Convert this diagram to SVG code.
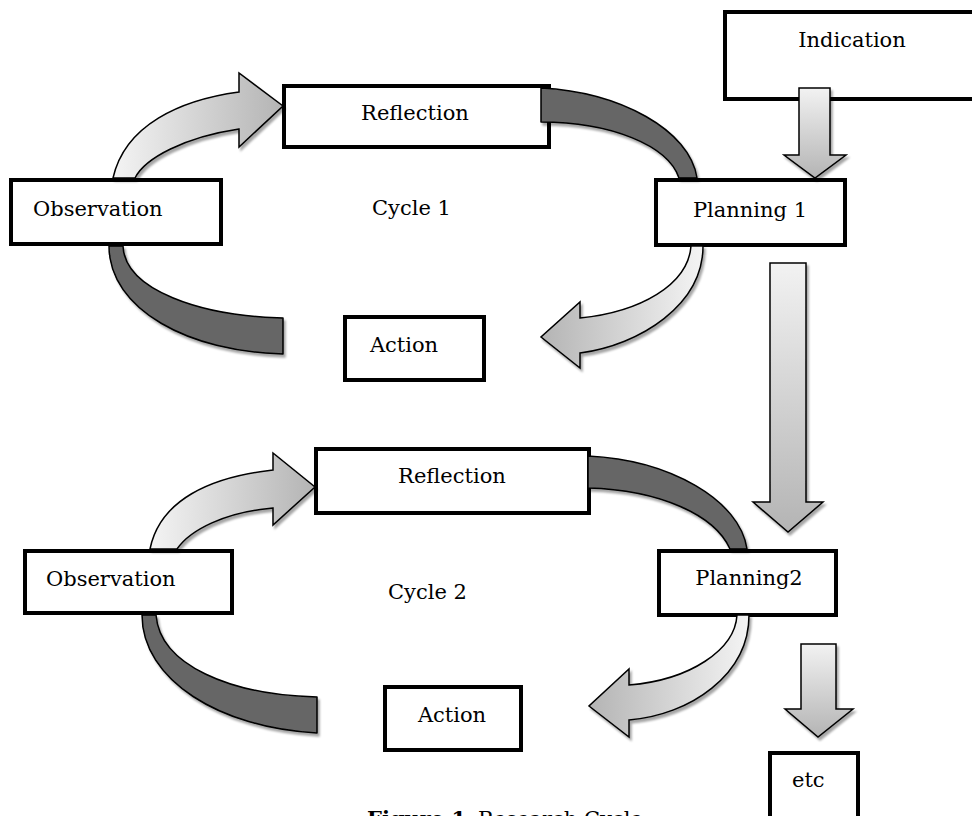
<svg xmlns="http://www.w3.org/2000/svg" width="972" height="816" viewBox="0 0 972 816">
<style>
.box{fill:#fff;stroke:#000;stroke-width:4}
.t{font-family:"DejaVu Serif","Liberation Serif",serif;font-size:21px;fill:#000}
.c{text-anchor:middle}
.dark{fill:#666;stroke:#000;stroke-width:1.5;stroke-linejoin:round;filter:url(#sh)}
.lr{fill:url(#gLR);stroke:#000;stroke-width:1.5;stroke-linejoin:miter;filter:url(#sh)}
.rl{fill:url(#gRL);stroke:#000;stroke-width:1.5;stroke-linejoin:miter;filter:url(#sh)}
.dn{fill:url(#gTB);stroke:#000;stroke-width:1.5;stroke-linejoin:miter;filter:url(#sh)}
</style>
<defs>
<filter id="sh" x="-10%" y="-10%" width="130%" height="130%">
<feDropShadow dx="2" dy="3" stdDeviation="1" flood-color="#000" flood-opacity="0.35"/>
</filter>
<linearGradient id="gLR" x1="0" y1="0" x2="1" y2="0"><stop offset="0" stop-color="#f4f4f4"/><stop offset="1" stop-color="#b4b4b4"/></linearGradient>
<linearGradient id="gRL" x1="1" y1="0" x2="0" y2="0"><stop offset="0" stop-color="#f4f4f4"/><stop offset="1" stop-color="#b4b4b4"/></linearGradient>
<linearGradient id="gTB" x1="0" y1="0" x2="0" y2="1"><stop offset="0" stop-color="#f2f2f2"/><stop offset="1" stop-color="#b4b4b4"/></linearGradient>
</defs>
<rect width="972" height="816" fill="#fff"/>

<g id="indication"><rect class="box" x="725" y="12" width="260" height="87"/><text class="t c" x="852" y="47">Indication</text></g>
<g id="observation1"><rect class="box" x="11" y="180" width="210" height="64"/><text class="t" x="33" y="216">Observation</text></g>
<g id="reflection1"><rect class="box" x="284" y="86" width="265" height="61"/><text class="t c" x="415" y="120">Reflection</text></g>
<g id="planning1"><rect class="box" x="656" y="180" width="189" height="65"/><text class="t c" x="750" y="217">Planning 1</text></g>
<g id="action1"><rect class="box" x="345" y="317" width="139" height="63"/><text class="t c" x="404" y="352">Action</text></g>
<g id="cycle1"><text class="t" x="372" y="215">Cycle 1</text></g>

<g id="observation2"><rect class="box" x="25" y="551" width="207" height="62"/><text class="t" x="46" y="586">Observation</text></g>
<g id="reflection2"><rect class="box" x="316" y="449" width="273" height="64"/><text class="t c" x="452" y="483">Reflection</text></g>
<g id="planning2"><rect class="box" x="659" y="551" width="177" height="64"/><text class="t c" x="749" y="585">Planning2</text></g>
<g id="action2"><rect class="box" x="385" y="687" width="136" height="63"/><text class="t c" x="452" y="722">Action</text></g>
<g id="cycle2"><text class="t" x="388" y="599">Cycle 2</text></g>
<g id="etc"><rect class="box" x="770" y="753" width="88" height="80"/><text class="t" x="792" y="787">etc</text></g>

<g id="connectors">
<!-- cycle 1 -->
<path class="lr" d="M113,178 C125,125 180,100 239,92 L239,73 L283,106 L239,147 L239,129 C185,137 145,158 135,178 Z"/>
<path class="dark" d="M541,88 C620,92 690,130 697,178 L679,178 C668,145 610,122 541,122 Z"/>
<path class="rl" d="M703,246 C703,305 640,345 580,353 L580,368 L541,337 L580,302 L580,318 C640,312 688,285 691,246 Z"/>
<path class="dark" d="M109,246 C109,310 190,352 283,354 L283,318 C200,316 125,290 123,246 Z"/>
<path class="dn" d="M799,88 L830,88 L830,155 L846,155 L815,178 L784,155 L799,155 Z"/>
<path class="dn" d="M770,263 L806,263 L806,502 L823,502 L788,532 L753,502 L770,502 Z"/>
<!-- cycle 2 -->
<path class="lr" d="M150,549 C160,500 210,477 273,470 L273,453 L315,487 L273,525 L273,508 C225,512 190,530 177,549 Z"/>
<path class="dark" d="M588,456 C670,460 740,500 747,549 L730,549 C715,515 660,490 588,488 Z"/>
<path class="rl" d="M749,615 C749,675 690,715 629,720 L629,737 L589,706 L629,669 L629,685 C690,680 735,650 737,615 Z"/>
<path class="dark" d="M142,615 C142,680 220,728 317,733 L317,697 C230,695 160,665 156,615 Z"/>
<path class="dn" d="M801,644 L836,644 L836,709 L853,709 L818,737 L785,709 L801,709 Z"/>
</g>

<g id="caption"><text class="t" x="367" y="826"><tspan font-weight="bold">Figure 1.</tspan><tspan x="478">Research Cycle</tspan></text></g>
</svg>
